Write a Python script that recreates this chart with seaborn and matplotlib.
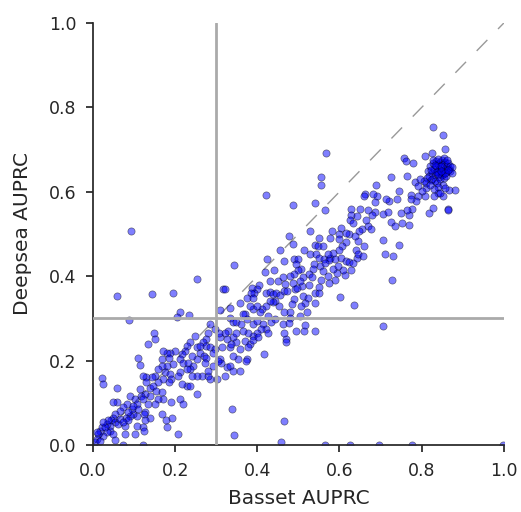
import numpy as np
import matplotlib
matplotlib.use("Agg")
import matplotlib.pyplot as plt
import seaborn as sns
import pandas as pd

# === DATA (Basset AUPRC, Deepsea AUPRC) ===
outliers = [
    (0.092, 0.507), (0.058, 0.354), (0.143, 0.357), (0.195, 0.359), (0.254, 0.394),
    (0.420, 0.592), (0.566, 0.693), (0.487, 0.569), (0.541, 0.573), (0.554, 0.634),
    (0.556, 0.616), (0.565, 0.556), (0.344, 0.426), (0.707, 0.283), (0.728, 0.392),
    (0.636, 0.331), (0.601, 0.351), (0.541, 0.271), (0.514, 0.270), (0.495, 0.271),
    (0.517, 0.284), (0.469, 0.251), (0.469, 0.245), (0.464, 0.265), (0.416, 0.215),
    (0.338, 0.086), (0.344, 0.024), (0.465, 0.056), (0.458, 0.008), (0.564, 0.0),
    (0.626, 0.0), (0.696, 0.0), (0.776, 0.0), (0.998, 0.0), (0.207, 0.026),
    (0.121, 0.0), (0.072, 0.0), (0.088, 0.296), (0.022, 0.158), (0.024, 0.144),
    (0.058, 0.134), (0.109, 0.207), (0.114, 0.189), (0.135, 0.239), (0.149, 0.265),
    (0.150, 0.251), (0.212, 0.314), (0.234, 0.307), (0.205, 0.303),
]

upper_band = [
    (0.827, 0.753), (0.853, 0.734), (0.858, 0.701), (0.757, 0.681), (0.761, 0.672),
    (0.779, 0.668), (0.809, 0.686), (0.824, 0.693), (0.881, 0.604), (0.866, 0.604),
    (0.863, 0.560), (0.863, 0.556), (0.818, 0.550), (0.827, 0.561), (0.851, 0.590),
    (0.841, 0.597), (0.809, 0.591), (0.810, 0.609), (0.800, 0.603), (0.790, 0.589),
    (0.787, 0.579), (0.773, 0.593), (0.773, 0.582), (0.765, 0.638), (0.785, 0.623),
    (0.792, 0.613), (0.776, 0.560), (0.770, 0.545), (0.770, 0.522), (0.764, 0.558),
    (0.751, 0.527), (0.750, 0.550), (0.744, 0.602), (0.739, 0.583), (0.726, 0.635),
    (0.720, 0.579), (0.726, 0.529), (0.735, 0.519), (0.744, 0.474), (0.707, 0.548),
    (0.688, 0.616), (0.692, 0.591), (0.682, 0.594), (0.663, 0.595), (0.659, 0.591),
    (0.669, 0.556), (0.686, 0.551), (0.669, 0.518), (0.677, 0.511), (0.665, 0.534),
    (0.654, 0.511), (0.648, 0.508), (0.660, 0.471), (0.644, 0.483), (0.624, 0.499),
    (0.627, 0.560), (0.627, 0.546), (0.649, 0.560), (0.643, 0.543), (0.712, 0.453),
    (0.730, 0.448), (0.707, 0.485), (0.678, 0.546), (0.686, 0.575), (0.713, 0.583),
    (0.718, 0.551),
]

mid_band = [
    (0.603, 0.515), (0.598, 0.500), (0.615, 0.481), (0.607, 0.471), (0.599, 0.487),
    (0.581, 0.507), (0.578, 0.491), (0.550, 0.490), (0.528, 0.507), (0.540, 0.475),
    (0.548, 0.471), (0.476, 0.496), (0.487, 0.477), (0.456, 0.462), (0.423, 0.441),
    (0.490, 0.441), (0.500, 0.441), (0.513, 0.461), (0.528, 0.452), (0.544, 0.452),
    (0.551, 0.444), (0.562, 0.440), (0.576, 0.442), (0.574, 0.438), (0.589, 0.440),
    (0.603, 0.444), (0.617, 0.437), (0.642, 0.442), (0.622, 0.433), (0.629, 0.414),
    (0.613, 0.402), (0.609, 0.414), (0.594, 0.408), (0.588, 0.390), (0.574, 0.383),
    (0.572, 0.400), (0.553, 0.424), (0.537, 0.428), (0.536, 0.418), (0.560, 0.412),
    (0.527, 0.406), (0.507, 0.416), (0.499, 0.414), (0.489, 0.404), (0.479, 0.400),
    (0.464, 0.436), (0.441, 0.414), (0.451, 0.388), (0.462, 0.398), (0.467, 0.381),
    (0.430, 0.388), (0.418, 0.410), (0.403, 0.378), (0.400, 0.370), (0.387, 0.373),
    (0.393, 0.359), (0.385, 0.361), (0.422, 0.361), (0.432, 0.362), (0.438, 0.358),
    (0.446, 0.360), (0.454, 0.355), (0.464, 0.365), (0.473, 0.365), (0.491, 0.369),
    (0.508, 0.377), (0.511, 0.353), (0.527, 0.378), (0.533, 0.398), (0.540, 0.361),
    (0.550, 0.361), (0.550, 0.375), (0.556, 0.390), (0.541, 0.336), (0.524, 0.349),
    (0.515, 0.336), (0.507, 0.329), (0.522, 0.314), (0.503, 0.306), (0.489, 0.345),
    (0.485, 0.333), (0.479, 0.315), (0.479, 0.302), (0.464, 0.314), (0.452, 0.329),
    (0.443, 0.341), (0.437, 0.339), (0.430, 0.341), (0.422, 0.329), (0.411, 0.322),
    (0.406, 0.314), (0.426, 0.306), (0.434, 0.292), (0.442, 0.298), (0.462, 0.286),
    (0.477, 0.290), (0.625, 0.534), (0.633, 0.525), (0.617, 0.503), (0.637, 0.495),
    (0.641, 0.463), (0.645, 0.452), (0.657, 0.448), (0.633, 0.432), (0.584, 0.455),
    (0.572, 0.452), (0.564, 0.432), (0.584, 0.416), (0.597, 0.424), (0.560, 0.471),
    (0.600, 0.463), (0.495, 0.428), (0.511, 0.397), (0.503, 0.389), (0.487, 0.385),
    (0.497, 0.372),
]

low_band = [
    (0.390, 0.322), (0.398, 0.329), (0.382, 0.329), (0.369, 0.310), (0.364, 0.310),
    (0.376, 0.298), (0.375, 0.349), (0.390, 0.349), (0.357, 0.337), (0.333, 0.325),
    (0.317, 0.369), (0.322, 0.369), (0.308, 0.320), (0.333, 0.302), (0.341, 0.292),
    (0.349, 0.292), (0.361, 0.286), (0.390, 0.286), (0.398, 0.294), (0.414, 0.286),
    (0.422, 0.274), (0.426, 0.266), (0.408, 0.274), (0.398, 0.266), (0.390, 0.258),
    (0.377, 0.266), (0.366, 0.270), (0.370, 0.247), (0.382, 0.239), (0.390, 0.249),
    (0.402, 0.255), (0.378, 0.231), (0.374, 0.203), (0.372, 0.199), (0.357, 0.227),
    (0.349, 0.243), (0.341, 0.255), (0.347, 0.266), (0.329, 0.270), (0.321, 0.266),
    (0.325, 0.251), (0.315, 0.231), (0.309, 0.203), (0.311, 0.195), (0.321, 0.164),
    (0.325, 0.184), (0.333, 0.188), (0.341, 0.176), (0.357, 0.176), (0.353, 0.203),
    (0.341, 0.211), (0.333, 0.231), (0.337, 0.239), (0.309, 0.255), (0.306, 0.266),
    (0.297, 0.274), (0.284, 0.286), (0.280, 0.266), (0.276, 0.251), (0.268, 0.243),
    (0.276, 0.235), (0.284, 0.231), (0.297, 0.227), (0.293, 0.219), (0.305, 0.199),
    (0.293, 0.188), (0.301, 0.156), (0.284, 0.156), (0.280, 0.164), (0.266, 0.164),
    (0.252, 0.164), (0.244, 0.188), (0.252, 0.203), (0.260, 0.219), (0.252, 0.231),
    (0.260, 0.235), (0.270, 0.211), (0.276, 0.207), (0.272, 0.195), (0.280, 0.176),
    (0.248, 0.258), (0.236, 0.243), (0.228, 0.235), (0.224, 0.223), (0.216, 0.215),
    (0.212, 0.203), (0.220, 0.195), (0.232, 0.195), (0.240, 0.211), (0.236, 0.180),
    (0.228, 0.180), (0.240, 0.164), (0.228, 0.140), (0.236, 0.140), (0.252, 0.121),
    (0.212, 0.172), (0.207, 0.164), (0.216, 0.144), (0.212, 0.109), (0.220, 0.097),
    (0.195, 0.191), (0.199, 0.223), (0.187, 0.219), (0.179, 0.219), (0.171, 0.223),
    (0.167, 0.203), (0.184, 0.207), (0.179, 0.188), (0.167, 0.188), (0.159, 0.180),
    (0.175, 0.172), (0.187, 0.168), (0.191, 0.156), (0.184, 0.148), (0.171, 0.156),
    (0.159, 0.148), (0.151, 0.164), (0.143, 0.160), (0.130, 0.160), (0.122, 0.164),
    (0.130, 0.148), (0.139, 0.136), (0.146, 0.140), (0.154, 0.128), (0.167, 0.125),
    (0.171, 0.109), (0.159, 0.109), (0.151, 0.097), (0.167, 0.073), (0.177, 0.058),
    (0.181, 0.042), (0.193, 0.065), (0.191, 0.101),
]

origin_band = [
    (0.139, 0.117), (0.126, 0.121), (0.114, 0.132), (0.118, 0.117), (0.122, 0.109),
    (0.134, 0.097), (0.126, 0.077), (0.124, 0.073), (0.139, 0.065), (0.126, 0.058),
    (0.122, 0.042), (0.124, 0.034), (0.106, 0.046), (0.102, 0.026), (0.106, 0.069),
    (0.098, 0.073), (0.094, 0.085), (0.090, 0.069), (0.086, 0.077), (0.080, 0.065),
    (0.078, 0.046), (0.078, 0.026), (0.082, 0.097), (0.090, 0.117), (0.102, 0.109),
    (0.106, 0.097), (0.110, 0.085), (0.098, 0.093), (0.074, 0.089), (0.066, 0.081),
    (0.058, 0.101), (0.049, 0.101), (0.053, 0.073), (0.049, 0.065), (0.045, 0.058),
    (0.053, 0.054), (0.062, 0.050), (0.041, 0.046), (0.033, 0.050), (0.041, 0.034),
    (0.049, 0.026), (0.053, 0.012), (0.033, 0.030), (0.025, 0.022), (0.017, 0.034),
    (0.013, 0.026), (0.009, 0.014), (0.005, 0.006), (0.017, 0.010), (0.021, 0.042),
    (0.029, 0.042), (0.037, 0.058), (0.025, 0.054), (0.009, 0.030), (0.066, 0.062),
    (0.086, 0.058), (0.074, 0.054),
]

top_cluster = [
    (0.815, 0.650), (0.820, 0.660), (0.825, 0.645), (0.828, 0.668), (0.830, 0.655),
    (0.832, 0.640), (0.835, 0.672), (0.836, 0.660), (0.838, 0.648), (0.840, 0.665),
    (0.842, 0.655), (0.843, 0.636), (0.845, 0.670), (0.846, 0.648), (0.848, 0.660),
    (0.850, 0.675), (0.851, 0.652), (0.853, 0.642), (0.855, 0.665), (0.856, 0.655),
    (0.858, 0.670), (0.860, 0.648), (0.862, 0.660), (0.864, 0.668), (0.866, 0.655),
    (0.868, 0.662), (0.870, 0.650), (0.818, 0.638), (0.822, 0.628), (0.826, 0.630),
    (0.833, 0.625), (0.838, 0.620), (0.845, 0.630), (0.850, 0.640), (0.855, 0.632),
    (0.860, 0.638), (0.852, 0.617), (0.840, 0.612), (0.830, 0.606), (0.812, 0.632),
    (0.810, 0.622), (0.827, 0.675), (0.841, 0.678), (0.855, 0.680), (0.862, 0.676),
    (0.873, 0.658), (0.875, 0.645), (0.834, 0.648), (0.846, 0.662), (0.857, 0.645),
    (0.822, 0.652), (0.839, 0.642), (0.848, 0.650), (0.863, 0.652), (0.832, 0.663),
    (0.820, 0.615), (0.805, 0.625), (0.797, 0.630), (0.830, 0.590), (0.845, 0.598),
    (0.858, 0.608),
]

points = outliers + upper_band + mid_band + low_band + origin_band + top_cluster
df = pd.DataFrame(points, columns=["basset", "deepsea"])

# === PLOT ===
sns.set_style("ticks")
plt.rcParams["font.family"] = ["DejaVu Sans"]
fig = plt.figure(figsize=(5.21, 5.12), dpi=100)
ax = fig.add_axes([0.1785, 0.131, 0.7885, 0.824])

ax.plot([0, 1], [0, 1], color="#999999", lw=1, ls=(0, (11, 11)), zorder=1)
sns.scatterplot(data=df, x="basset", y="deepsea", ax=ax, color="#0000ff", alpha=0.5,
                s=27, edgecolor="black", linewidth=0.5, zorder=2)
ax.plot([0.3, 0.3], [0, 1], color="#aaaaaa", lw=2, zorder=3)
ax.plot([0, 1], [0.3, 0.3], color="#aaaaaa", lw=2, zorder=3)

ax.set_xlim(0, 1)
ax.set_ylim(0, 1)
ax.set_xticks([0.0, 0.2, 0.4, 0.6, 0.8, 1.0])
ax.set_yticks([0.0, 0.2, 0.4, 0.6, 0.8, 1.0])
ax.tick_params(labelsize=12.5, length=5, width=1.25, pad=7, colors="#262626")
for s in ["left", "bottom"]:
    ax.spines[s].set_linewidth(1.25)
    ax.spines[s].set_color("#262626")
sns.despine(ax=ax)
ax.set_xlabel("Basset AUPRC", fontsize=14.5, color="#262626", labelpad=7)
ax.set_ylabel("Deepsea AUPRC", fontsize=14.5, color="#262626", labelpad=12)

fig.savefig("out.png", dpi=100)
plt.close()
